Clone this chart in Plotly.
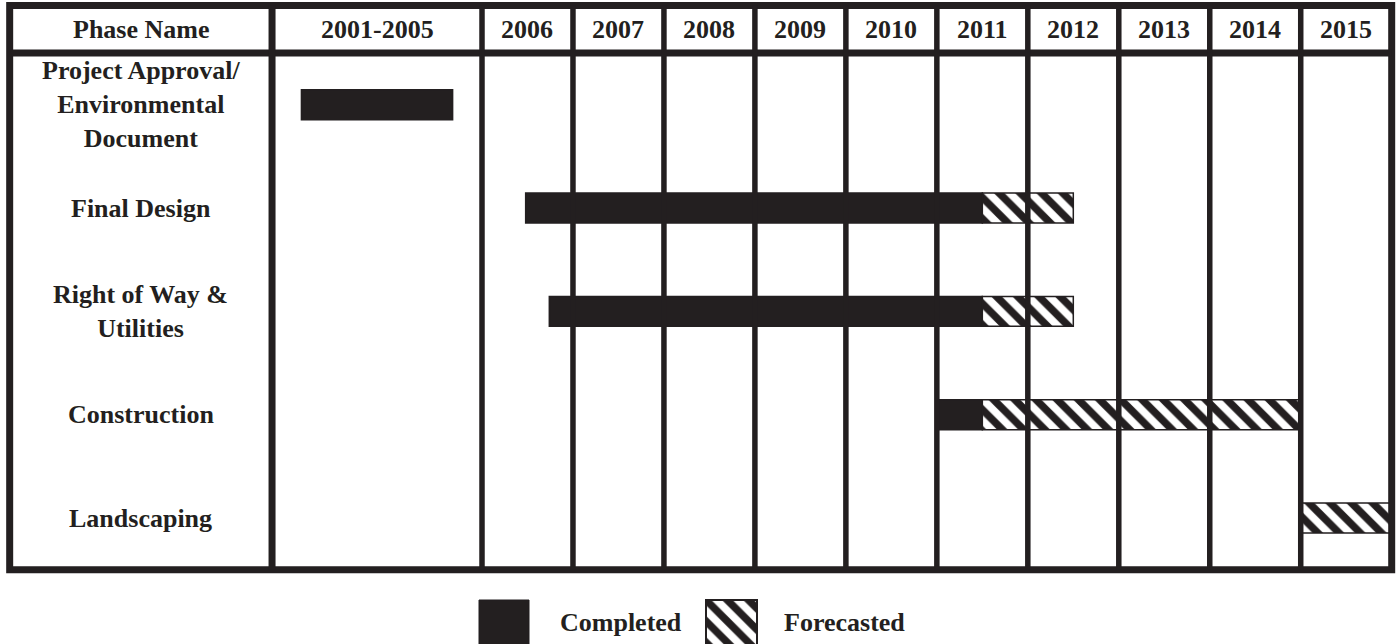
import plotly.graph_objects as go

# ---------------- data ----------------
phases = [
    "Project Approval/<br>Environmental<br>Document",
    "Final Design",
    "Right of Way &<br>Utilities",
    "Construction",
    "Landscaping",
]
header_labels = ["Phase Name", "2001-2005", "2006", "2007", "2008", "2009",
                 "2010", "2011", "2012", "2013", "2014", "2015"]
year_columns = [2006, 2007, 2008, 2009, 2010, 2011, 2012, 2013, 2014, 2015]

completed_start = [2001.7, 2006.48, 2006.74, 2011.0, None]
completed_end = [2005.3, 2011.5, 2011.5, 2011.5, None]
forecast_start = [None, 2011.5, 2011.5, 2011.5, 2015.0]
forecast_end = [None, 2012.5, 2012.5, 2015.0, 2016.0]

legend_labels = ["Completed", "Forecasted"]

# ---------------- styling / layout constants ----------------
INK = "#231f20"
FONT = "Liberation Serif"
FS = 26
W, H = 1398, 644

EARLY_START, EARLY_END = 2001, 2006      # the compressed 2001-2005 column
EARLY_WIDTH = 2.308                      # width of that column in year-column units
PHASE_WIDTH = 2.884                      # width of the phase-name column in year-column units
LAST_EDGE = 2016


def pos(year):
    """scale: years -> horizontal position (2001-2005 column compressed)."""
    if year is None:
        return None
    if year < EARLY_END:
        return EARLY_END - (EARLY_END - year) * EARLY_WIDTH / (EARLY_END - EARLY_START)
    return year


phase_right = pos(EARLY_START)
phase_left = phase_right - PHASE_WIDTH
header_top = -0.96
header_bottom = -0.5
body_bottom = len(phases) - 0.5
rows = list(range(len(phases)))

fig = go.Figure()

# completed bars
cb, cx, cy = [], [], []
for r, s, e in zip(rows, completed_start, completed_end):
    if s is not None:
        cb.append(pos(s)); cx.append(pos(e) - pos(s)); cy.append(r)
fig.add_trace(go.Bar(
    orientation="h", y=cy, base=cb, x=cx, width=0.29,
    marker=dict(color=INK, line=dict(color=INK, width=1.5)),
    hoverinfo="skip", showlegend=False,
))

# forecasted bars (hatched)
fb, fx, fy = [], [], []
for r, s, e in zip(rows, forecast_start, forecast_end):
    if s is not None:
        fb.append(pos(s)); fx.append(pos(e) - pos(s)); fy.append(r)
hatch = dict(shape="\\", fgcolor=INK, fgopacity=1, bgcolor="white", size=15,
             solidity=0.5, fillmode="overlay")
fig.add_trace(go.Bar(
    orientation="h", y=fy, base=fb, x=fx, width=0.29,
    marker=dict(color="white", pattern=hatch, line=dict(color=INK, width=1.5)),
    hoverinfo="skip", showlegend=False,
))

# legend swatches (own little axes in pixel units)
LEG_Y = 625
LEG_SIZE = 50
leg_left = [479, 706]
leg_w = [50, 51]
fig.add_trace(go.Bar(
    orientation="h", y=[LEG_Y], base=[leg_left[0]], x=[leg_w[0]], width=LEG_SIZE,
    marker=dict(color=INK, line=dict(color=INK, width=1)),
    xaxis="x2", yaxis="y2", hoverinfo="skip", showlegend=False,
))
fig.add_trace(go.Bar(
    orientation="h", y=[LEG_Y], base=[leg_left[1]], x=[leg_w[1]], width=LEG_SIZE,
    marker=dict(color="white", pattern=hatch, line=dict(color=INK, width=2)),
    xaxis="x2", yaxis="y2", hoverinfo="skip", showlegend=False,
))

shapes = []
# outer frame
shapes.append(dict(type="rect", xref="x", yref="y", x0=phase_left, x1=LAST_EDGE,
                   y0=header_top, y1=body_bottom, line=dict(color=INK, width=7), layer="above"))
# header separator
shapes.append(dict(type="line", xref="x", yref="y", x0=phase_left, x1=LAST_EDGE,
                   y0=header_bottom, y1=header_bottom, line=dict(color=INK, width=7), layer="above"))
# phase column separator
shapes.append(dict(type="line", xref="x", yref="y", x0=phase_right, x1=phase_right,
                   y0=header_top, y1=body_bottom, line=dict(color=INK, width=7), layer="above"))
# year separators
for yr in year_columns:
    shapes.append(dict(type="line", xref="x", yref="y", x0=pos(yr), x1=pos(yr),
                       y0=header_top, y1=body_bottom, line=dict(color=INK, width=5.5), layer="above"))

annotations = []
font = dict(family=FONT, size=FS, color=INK)
# header labels
col_edges = [phase_left, phase_right] + [pos(y) for y in year_columns] + [LAST_EDGE]
for i, lab in enumerate(header_labels):
    xc = (col_edges[i] + col_edges[i + 1]) / 2
    annotations.append(dict(x=xc, y=(header_top + header_bottom) / 2, xref="x", yref="y",
                            text=f"<b>{lab}</b>", showarrow=False, font=font,
                            xanchor="center", yanchor="middle"))
# phase labels
for r, lab in zip(rows, phases):
    annotations.append(dict(x=(phase_left + phase_right) / 2, y=r, xref="x", yref="y",
                            text=f"<b>{lab}</b>", showarrow=False, font=font,
                            xanchor="center", yanchor="middle"))
# legend labels
leg_text_x = [558, 782]
for tx, lab in zip(leg_text_x, legend_labels):
    annotations.append(dict(x=tx, y=622, xref="x2", yref="y2", text=f"<b>{lab}</b>",
                            showarrow=False, font=font, xanchor="left", yanchor="middle"))

# axis ranges chosen so one year column = 90.97 px and one row = 103.34 px
PX_PER_YEAR = 90.97
PX_PER_ROW = 103.34
X_2006_PX = 482
ROW0_PX = 104.7

fig.update_layout(
    width=W, height=H,
    margin=dict(l=0, r=0, t=0, b=0),
    paper_bgcolor="white", plot_bgcolor="rgba(0,0,0,0)",
    barmode="overlay",
    showlegend=False,
    xaxis=dict(range=[2006 - X_2006_PX / PX_PER_YEAR, 2006 + (W - X_2006_PX) / PX_PER_YEAR],
               visible=False, domain=[0, 1], fixedrange=True),
    yaxis=dict(range=[(H - ROW0_PX) / PX_PER_ROW, -ROW0_PX / PX_PER_ROW],
               visible=False, domain=[0, 1], fixedrange=True),
    xaxis2=dict(range=[0, W], visible=False, domain=[0, 1], anchor="y2", fixedrange=True),
    yaxis2=dict(range=[H, 0], visible=False, domain=[0, 1], anchor="x2", fixedrange=True),
    shapes=shapes,
    annotations=annotations,
)

fig.write_html("out.html", config={"displayModeBar": False},
               post_script="document.body.style.margin='0';document.body.style.overflow='hidden';")
